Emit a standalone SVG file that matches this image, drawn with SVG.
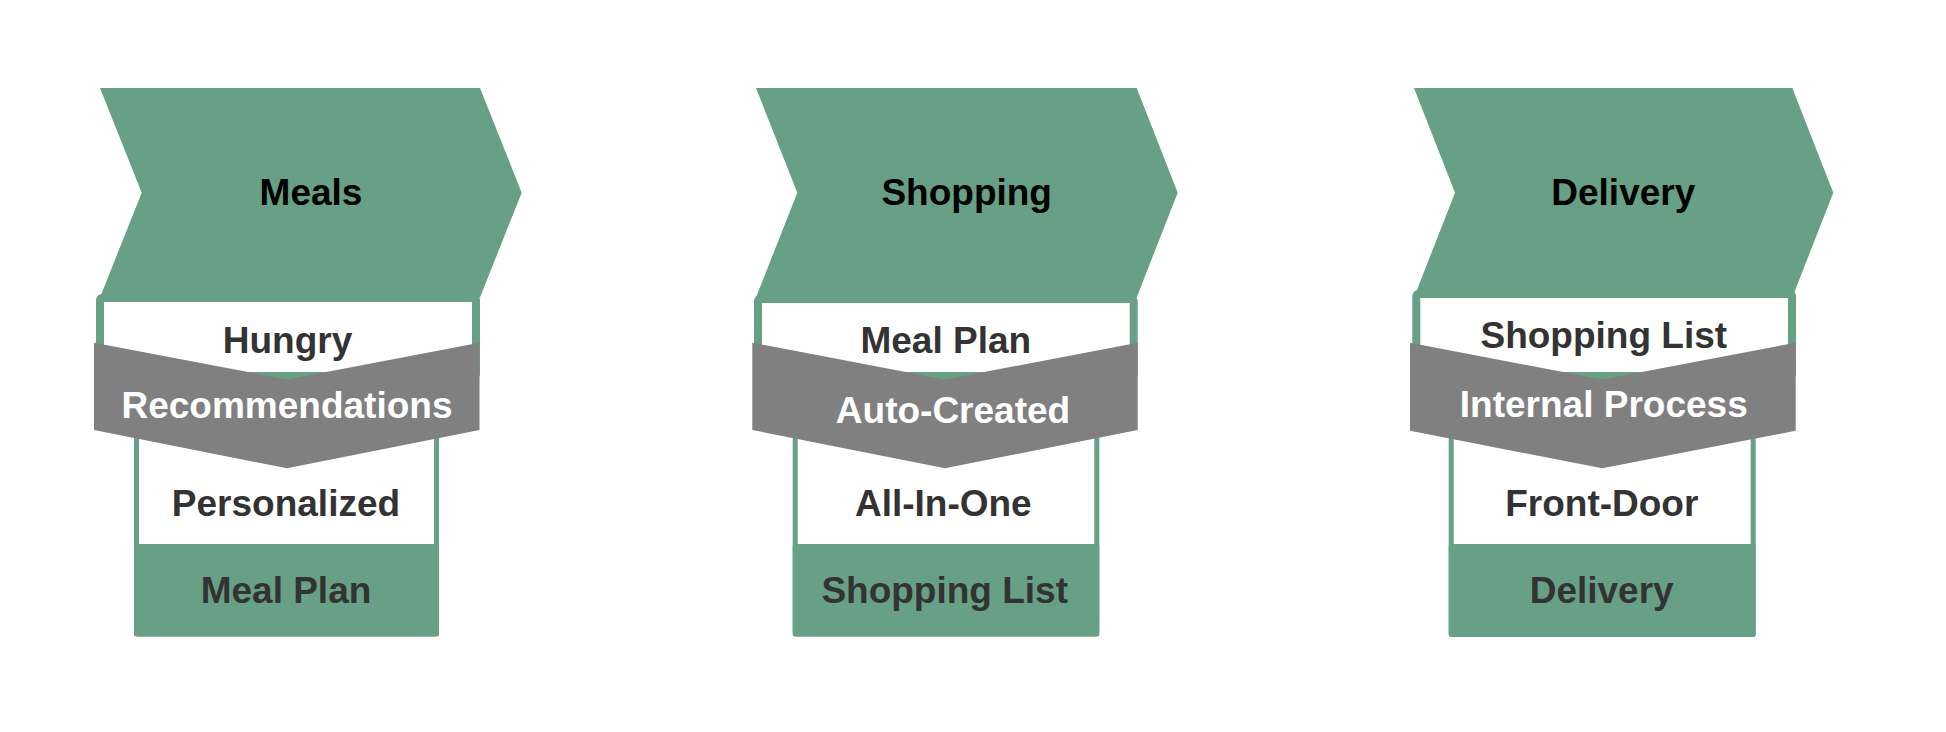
<svg xmlns="http://www.w3.org/2000/svg" width="1946" height="732" viewBox="0 0 1946 732">
<style>
  .bg{fill:#ffffff}
  .chev{fill:#67A084}
  .frameU{fill:#ffffff;stroke:#67A084;stroke-width:8}
  .frameL{fill:#ffffff;stroke:#67A084;stroke-width:5}
  .foot{fill:#67A084}
  .band{fill:#808080}
  text{font-family:"Liberation Sans",Arial,Helvetica,sans-serif;font-weight:bold;font-size:37px;text-anchor:middle}
  .tHead{fill:#000000}
  .tBox{fill:#333333}
  .tBand{fill:#ffffff}
</style>
<rect class="bg" x="0" y="0" width="1946" height="732"/>
<g id="connectors"/>

<g id="col-meals">
  <g id="meals-header">
    <polygon class="chev" points="100,88 480,88 521.7,192.7 480,297.4 100,297.4 141.7,192.7"/>
    <text class="tHead" x="311" y="205">Meals</text>
  </g>
  <g id="meals-input">
    <rect class="frameU" x="100" y="298" width="376" height="78" rx="2"/>
    <text class="tBox" x="287.5" y="352.5">Hungry</text>
  </g>
  <g id="meals-output">
    <rect class="frameL" x="136.5" y="418" width="300" height="216" rx="2"/>
    <rect class="foot" x="134" y="544" width="305" height="92.5" rx="2"/>
    <text class="tBox" x="286" y="516">Personalized</text>
    <text class="tBox" x="286" y="603.3">Meal Plan</text>
  </g>
  <g id="meals-process">
    <polygon class="band" points="94,342.7 287,379.5 479.5,342.7 479.5,430 287,468.3 94,430"/>
    <text class="tBand" x="287" y="418.3">Recommendations</text>
  </g>
</g>

<g id="col-shopping">
  <g id="shopping-header">
    <polygon class="chev" points="756,88 1136.7,88 1177.7,192.7 1136.7,297.4 756,297.4 797.3,192.7"/>
    <text class="tHead" x="966.7" y="205">Shopping</text>
  </g>
  <g id="shopping-input">
    <rect class="frameU" x="758" y="299" width="375.7" height="77" rx="2"/>
    <text class="tBox" x="945.8" y="353">Meal Plan</text>
  </g>
  <g id="shopping-output">
    <rect class="frameL" x="795.2" y="418" width="301.6" height="216" rx="2"/>
    <rect class="foot" x="792.7" y="544" width="306.6" height="92.5" rx="2"/>
    <text class="tBox" x="943.3" y="516">All-In-One</text>
    <text class="tBox" x="944.7" y="603.3">Shopping List</text>
  </g>
  <g id="shopping-process">
    <polygon class="band" points="752.3,342.7 945,379.5 1137.7,342.7 1137.7,430 945,468.3 752.3,430"/>
    <text class="tBand" x="953" y="423.3">Auto-Created</text>
  </g>
</g>

<g id="col-delivery">
  <g id="delivery-header">
    <polygon class="chev" points="1414,88 1792.3,88 1833.3,192.7 1792.3,297.4 1414,297.4 1455,192.7"/>
    <text class="tHead" x="1623.3" y="205">Delivery</text>
  </g>
  <g id="delivery-input">
    <rect class="frameU" x="1416.3" y="294" width="375.7" height="82" rx="2"/>
    <text class="tBox" x="1603.8" y="348">Shopping List</text>
  </g>
  <g id="delivery-output">
    <rect class="frameL" x="1451.2" y="418" width="302" height="216.5" rx="2"/>
    <rect class="foot" x="1448.7" y="544" width="307" height="93" rx="2"/>
    <text class="tBox" x="1601.8" y="516">Front-Door</text>
    <text class="tBox" x="1601.7" y="603.3">Delivery</text>
  </g>
  <g id="delivery-process">
    <polygon class="band" points="1410,342.7 1602.3,379.5 1795.7,342.7 1795.7,430.7 1602.3,468.3 1410,430.7"/>
    <text class="tBand" x="1603.8" y="417.3">Internal Process</text>
  </g>
</g>
</svg>
